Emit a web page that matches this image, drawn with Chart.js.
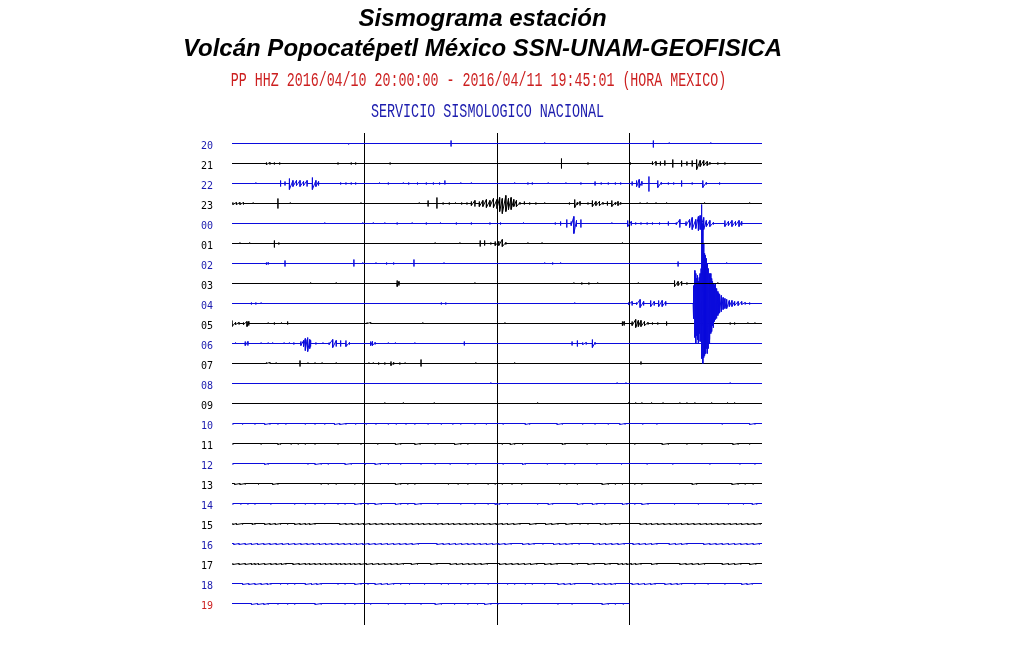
<!DOCTYPE html>
<html><head><meta charset="utf-8">
<script src="https://cdn.jsdelivr.net/npm/chart.js@4.4.1/dist/chart.umd.min.js"></script>
<style>html,body{margin:0;padding:0;background:#fff;overflow:hidden}</style>
</head><body>
<canvas id="c" width="1015" height="655"></canvas>
<script>
// ---------- texts ----------
const titleLines = ['Sismograma estación', 'Volcán Popocatépetl México SSN-UNAM-GEOFISICA'];
const headerLine = 'PP HHZ 2016/04/10 20:00:00 - 2016/04/11 19:45:01 (HORA MEXICO)';
const agencyLine = 'SERVICIO SISMOLOGICO NACIONAL';

// ---------- rows (hours) ----------
const hourLabels = ['20','21','22','23','00','01','02','03','04','05','06','07','08','09','10','11','12','13','14','15','16','17','18','19'];
const rowEndMinute = [60,60,60,60,60,60,60,60,60,60,60,60,60,60,60,60,60,60,60,60,60,60,60,45];
const minuteTicks = [0, 15, 30, 45, 60];
const rowSpacing = 20; // trace offset, in amplitude counts

// ---------- events: [minute, amplitude up, amplitude down] ----------
const row20 = [[13.2,0,1],[24.8,3,3],[35.4,1,0],[47.7,3,4],[49.5,1,0],[54.2,1,0]];
const row21 = [[3.9,1,1],[4.3,1,1],[4.8,1,1],[5.4,1,1],[12.0,1,1],[13.5,1,1],[14.0,1,1],[17.9,1,1],[37.3,5,5],[40.3,1,1],[45.1,1,1],[47.6,2,1],[48.0,2,2],[48.5,2,2],[49.0,3,2],[49.9,4,4],[50.9,3,3],[51.5,2,2],[52.1,3,3],[52.6,4,6],[53.0,3,3],[53.4,3,2],[53.8,2,2],[54.1,1,1],[55.0,1,1],[55.8,1,1]];
const row22 = [[2.7,1,0],[5.5,3,3],[6.0,2,2],[6.5,5,6],[6.9,3,3],[7.3,3,2],[7.7,3,3],[8.1,2,2],[8.5,3,3],[9.1,6,6],[9.5,3,3],[9.8,2,2],[12.3,1,1],[12.9,1,1],[13.5,1,1],[14.0,1,1],[16.7,1,0],[17.7,1,1],[19.4,1,0],[20.0,1,1],[21.0,1,1],[22.0,1,1],[22.8,1,1],[23.5,1,1],[24.1,3,1],[25.9,1,0],[27.1,1,0],[32.0,1,0],[33.5,1,1],[34.0,1,1],[35.8,1,0],[37.8,1,0],[39.5,1,1],[41.1,2,2],[41.8,1,1],[42.6,1,1],[43.4,1,1],[44.0,1,1],[45.3,2,2],[45.8,3,3],[46.1,4,4],[46.4,2,2],[47.2,7,8],[48.2,3,4],[48.6,1,1],[49.4,1,1],[50.0,1,1],[50.9,3,3],[52.1,1,1],[53.3,3,4],[53.7,1,1],[55.2,1,1]];
const row23 = [[0.1,1,1],[0.5,1,1],[0.9,1,1],[1.3,1,1],[2.4,1,0],[5.2,5,5],[6.6,1,0],[14.6,1,0],[21.2,1,0],[22.2,3,3],[23.2,6,5],[23.9,1,1],[24.6,1,1],[25.3,1,0],[26.0,1,1],[26.6,1,1],[27.1,2,2],[27.5,3,3],[28.0,2,3],[28.4,3,3],[28.8,4,4],[29.2,3,3],[29.6,5,4],[30.0,4,5],[30.3,6,8],[30.6,5,10],[31.0,8,8],[31.3,5,6],[31.6,6,6],[31.9,4,3],[32.2,3,3],[32.6,1,1],[33.1,2,1],[33.7,1,1],[34.4,1,1],[35.4,1,0],[38.2,1,1],[38.8,4,4],[39.1,1,1],[39.4,2,2],[40.3,1,1],[40.8,3,3],[41.2,2,2],[41.6,2,2],[42.0,1,1],[42.5,2,2],[43.0,3,3],[43.4,1,1],[43.7,2,2],[44.0,1,1],[46.2,1,0],[47.0,1,0],[48.0,1,0],[49.2,1,0],[53.5,1,0],[58.6,1,0]];
const row00 = [[10.5,1,0],[14.8,1,0],[16.0,1,0],[17.3,1,0],[18.7,1,1],[20.4,1,0],[22.0,1,1],[23.6,1,0],[25.4,1,1],[27.1,1,1],[29.2,1,1],[30.4,1,1],[33.0,1,0],[36.6,1,1],[37.2,2,2],[37.9,4,4],[38.4,2,2],[38.7,7,10],[39.0,3,3],[39.5,4,4],[43.0,1,0],[44.8,3,3],[45.2,2,2],[45.7,1,1],[46.3,1,1],[47.0,1,1],[47.6,1,1],[48.4,1,1],[49.4,2,2],[50.3,1,1],[50.7,4,4],[51.4,2,2],[51.8,4,4],[52.1,6,6],[52.5,4,5],[52.8,7,7],[53.0,8,6],[53.4,6,6],[53.7,3,3],[54.1,3,3],[54.5,1,1],[55.8,3,3],[56.2,2,2],[56.6,3,3],[57.0,2,2],[57.4,3,3],[57.7,2,2]];
const row01 = [[0.9,1,0],[2.0,1,0],[4.8,3,4],[5.3,1,1],[15.0,1,0],[23.0,1,0],[25.8,1,0],[28.1,3,3],[28.6,3,2],[29.3,1,1],[29.8,2,2],[30.2,2,2],[30.6,4,3],[31.0,1,1],[33.5,1,0],[35.1,1,0],[44.2,1,0]];
const row02 = [[3.9,1,1],[4.1,1,1],[6.0,3,3],[13.8,4,3],[14.8,1,0],[16.3,1,0],[17.5,1,1],[18.3,1,1],[20.6,4,3],[24.0,1,0],[35.4,1,0],[36.3,1,1],[37.2,1,0],[50.5,2,3],[56.0,1,0]];
const row03 = [[8.9,1,0],[11.8,1,0],[18.7,3,3],[18.9,2,2],[27.5,1,0],[38.7,1,0],[39.6,1,1],[40.4,1,1],[41.4,1,0],[46.0,1,0],[50.1,3,3],[50.5,2,2],[50.9,2,2],[51.5,1,1],[55.0,1,0]];
const row04 = [[2.2,1,1],[2.7,1,1],[3.3,1,0],[23.7,1,1],[24.2,1,1],[38.8,1,0],[44.9,1,1],[45.3,2,2],[45.8,1,1],[46.2,4,4],[46.6,2,2],[47.4,3,3],[47.8,2,2],[48.3,3,3],[48.7,3,3],[49.1,2,2],
  [52.2,10,8],[52.3,18,15],[52.4,33,34],[52.5,30,40],[52.6,25,32],[52.7,28,36],[52.8,22,40],[52.9,26,30],[53.0,30,38],[53.1,35,50],[53.2,99,55],[53.3,80,60],[53.4,60,54],[53.5,50,52],[53.6,48,50],[53.7,45,45],[53.8,40,50],[53.9,35,45],[54.0,30,40],[54.1,28,36],[54.2,30,30],[54.3,25,28],[54.4,22,22],[54.5,20,24],[54.6,18,18],[54.7,20,16],[54.8,15,15],[54.9,14,12],[55.0,12,12],[55.1,10,10],[55.2,9,9],[55.4,8,8],[55.6,6,6],[55.8,5,5],[56.0,4,5],[56.3,3,3],[56.6,3,3],[56.9,2,2],[57.3,2,2],[57.7,2,1],[58.1,1,1],[58.6,1,1]];
const row05 = [[0.0,3,3],[0.4,1,1],[0.8,1,1],[1.3,1,1],[1.7,2,3],[1.9,2,2],[4.1,1,0],[4.8,1,1],[5.6,1,0],[6.3,2,1],[15.3,1,0],[15.7,1,0],[21.6,1,0],[30.9,1,0],[44.2,2,2],[44.4,2,2],[45.3,2,2],[45.7,4,4],[46.0,3,3],[46.3,3,3],[46.7,2,2],[47.1,1,1],[47.6,1,1],[48.2,1,1],[49.2,2,2],[56.4,1,1],[56.9,1,1],[58.4,1,0],[59.2,1,0]];
const row06 = [[0.4,1,0],[1.5,2,2],[1.8,2,2],[3.3,1,0],[4.1,1,0],[4.6,1,0],[5.9,1,0],[6.5,1,0],[7.0,1,1],[7.8,2,2],[8.1,3,3],[8.3,5,7],[8.5,4,4],[8.6,6,8],[8.8,4,5],[8.9,3,3],[9.5,1,1],[10.3,1,0],[11.0,1,1],[11.4,4,4],[11.8,3,3],[12.3,3,3],[12.9,3,3],[13.3,1,1],[15.7,2,2],[15.9,2,2],[16.2,1,1],[17.7,1,0],[18.5,1,0],[20.7,1,0],[26.3,2,2],[38.5,2,2],[39.1,3,3],[39.7,1,1],[40.1,1,1],[40.8,4,4],[41.1,1,1]];
const row07 = [[3.9,1,0],[4.3,1,0],[5.0,1,0],[7.7,3,3],[8.6,1,0],[9.4,1,0],[10.2,1,0],[11.8,1,0],[15.5,1,0],[16.0,1,0],[16.6,1,1],[17.3,1,1],[18.0,2,2],[18.3,1,1],[19.0,1,1],[19.6,1,0],[21.4,4,3],[27.6,1,0],[32.0,1,0],[46.3,2,1]];
const row08 = [[29.3,1,0],[43.6,1,0],[44.6,1,0],[56.4,1,0]];
const row09 = [[17.3,1,0],[19.4,1,0],[22.9,1,0],[34.6,1,0],[44.9,1,0],[45.7,1,0],[46.4,1,0],[47.5,1,0],[48.8,1,0],[50.7,1,0],[51.5,1,0],[52.4,1,0],[54.3,1,0],[56.1,1,0],[56.9,1,0]];

// background noise ticks (minutes), small amplitude
const noise10 = [0.1,1.2,2.6,3.7,4.3,5.2,6.1,8.3,9.4,10.5,11.6,12.2,12.9,14.0,15.2,16.3,17.7,18.6,19.7,20.7,22.2,23.7,25.0,25.9,27.5,28.8,30.7,33.2,33.7,36.8,37.4,39.7,41.1,42.6,43.9,44.5,46.5,48.1,55.5,58.6,59.2];
const noise11 = [0.1,3.3,5.2,5.5,6.7,7.5,8.3,9.4,12.0,14.6,16.5,18.5,19.1,20.7,21.3,23.0,25.2,25.9,26.7,30.6,31.5,32.0,32.9,37.4,37.7,40.2,42.4,45.6,48.7,49.4,51.5,53.2,56.7,57.3,58.6];
const noise12 = [0.1,3.7,4.1,8.6,9.4,10.1,10.9,12.8,13.5,15.1,16.2,16.8,17.7,19.1,21.4,23.0,24.7,26.7,27.6,30.7,32.9,33.2,35.7,37.7,38.8,41.3,44.1,47.0,49.9,54.1,57.5,59.2];
const noise13 = [0.3,0.9,1.5,3.0,4.6,5.2,10.1,10.9,11.8,13.9,14.8,18.5,19.1,19.9,20.7,24.5,25.6,26.7,29.0,29.8,30.6,31.7,32.8,37.1,37.9,39.1,41.9,42.6,43.4,44.2,45.6,46.4,52.1,52.6,56.6,57.3,58.1,59.0];
const noise14 = [0.1,1.0,1.8,2.6,4.4,7.1,8.3,9.4,10.5,12.0,12.8,13.9,14.6,15.4,16.2,16.9,18.5,19.1,19.9,20.7,21.4,23.3,25.9,27.5,29.0,29.8,30.0,30.3,31.2,34.6,35.8,36.3,39.1,39.7,40.8,41.3,42.2,44.2,44.7,45.6,46.4,47.1,50.1,52.8,56.2,57.9,58.9,59.4];
const noise15 = [0.1,0.5,1.2,2.3,2.6,3.7,4.3,4.9,5.5,6.3,7.1,7.7,8.3,8.8,9.4,12.2,12.9,13.6,14.3,14.9,15.6,16.3,17.0,17.7,18.3,19.0,19.7,20.4,21.1,21.7,22.4,23.1,23.8,24.5,25.1,25.8,26.5,27.2,27.8,28.5,29.2,29.9,30.6,31.2,31.9,32.6,33.7,34.4,35.5,36.2,36.9,37.8,38.5,39.4,40.3,41.7,42.3,43.0,43.9,46.2,46.9,47.5,48.2,48.9,49.6,50.3,50.9,51.6,52.3,53.0,53.7,54.3,55.0,55.7,56.4,57.1,57.7,58.4,59.1,59.8];
const noise16 = [0.2,0.8,1.5,2.2,2.9,3.6,4.3,5.0,5.7,6.4,7.1,7.8,8.5,9.2,9.9,10.6,11.3,12.0,12.7,13.4,14.1,14.8,15.5,16.2,16.9,17.6,18.3,19.0,19.7,20.4,21.1,23.2,23.9,24.6,25.3,26.0,26.7,27.4,28.1,28.8,29.5,30.2,30.9,31.6,32.9,33.6,34.2,35.2,36.4,37.1,37.8,38.5,39.3,40.9,41.6,42.3,43.0,43.7,44.4,45.4,46.1,46.8,47.5,48.1,49.5,50.2,50.9,51.5,53.4,54.1,54.8,55.5,56.2,56.9,57.6,58.3,59.0,59.7];
const noise17 = [0.1,0.8,1.5,2.2,2.6,3.0,3.7,4.4,5.0,5.6,6.1,6.9,7.6,8.3,8.8,9.4,10.0,10.6,11.2,11.8,12.3,12.8,13.4,13.9,14.5,15.2,15.9,16.6,17.3,18.0,18.7,19.4,20.3,21.0,22.5,23.2,24.7,25.4,26.1,26.8,27.5,28.2,28.9,30.3,31.0,31.7,32.4,33.1,33.8,34.5,35.4,36.1,36.8,38.5,39.1,40.3,41.0,42.2,42.8,43.7,44.2,44.7,45.2,45.7,46.3,47.5,48.1,50.7,51.4,52.1,52.8,53.5,55.5,56.2,56.9,57.6,58.6,59.3];
const noise18 = [1.2,1.9,2.6,3.3,4.0,4.4,5.5,6.3,7.1,8.3,9.0,9.6,10.1,12.0,12.8,13.9,14.6,15.4,16.2,16.9,17.6,18.3,19.1,20.1,21.8,23.7,24.5,25.9,26.7,27.5,29.0,31.2,32.0,33.2,34.0,35.4,36.9,37.6,38.3,38.8,40.8,41.5,42.2,42.9,43.4,45.3,46.0,46.7,47.4,47.9,49.0,49.7,50.4,50.9,52.4,53.9,55.8,57.7,58.3,58.9];
const noise19 = [2.2,2.9,3.6,4.1,5.2,6.3,7.1,9.4,10.1,12.8,13.9,15.7,17.7,19.6,21.4,23.0,23.7,25.2,26.7,27.8,28.6,29.3,30.1,32.8,36.9,38.5,41.9,42.6,43.4,44.3];
const noiseUp = 0, noiseDown = 1;

const toTicks = list => list.map(m => [m, noiseUp, noiseDown]);
const rowEvents = [row20,row21,row22,row23,row00,row01,row02,row03,row04,row05,row06,row07,row08,row09,
  toTicks(noise10),toTicks(noise11),toTicks(noise12),toTicks(noise13),toTicks(noise14),
  toTicks(noise15),toTicks(noise16),toTicks(noise17),toTicks(noise18),toTicks(noise19)];

// ---------- styles ----------
const BLUE = '#0b0bdc', BLACK = '#000000', RED = '#cc1f1f';
const traceColors = hourLabels.map((h, i) => (i === hourLabels.length - 1 || i % 2 === 0) ? BLUE : BLACK);
const labelColors = hourLabels.map((h, i) => i === hourLabels.length - 1 ? RED : (i % 2 === 0 ? '#1a1aae' : BLACK));
// wiggles closer than this (minutes) are drawn as one continuous oscillation
const joinGapEvents = 0.45, joinGapNoise = 0.75, firstNoiseRow = 14;

function buildTrace(i) {
  const base = i * rowSpacing;
  const joinGap = i >= firstNoiseRow ? joinGapNoise : joinGapEvents;
  const pts = [{x: 0, y: base}];
  let prev = null;
  rowEvents[i].slice().sort((a, b) => a[0] - b[0]).forEach(([m, up, dn]) => {
    if (prev === null || m - prev > joinGap) {
      if (prev !== null) pts.push({x: prev, y: base});
      pts.push({x: m, y: base});
    }
    pts.push({x: m, y: base - up}, {x: m, y: base + dn});
    prev = m;
  });
  if (prev !== null) pts.push({x: prev, y: base});
  pts.push({x: rowEndMinute[i], y: base});
  return pts;
}

const datasets = hourLabels.map((h, i) => ({
  label: h,
  data: buildTrace(i),
  borderColor: traceColors[i],
  borderWidth: 1,
  pointRadius: 0,
  tension: 0,
  fill: false,
  yAxisID: 'y'
}));

function drawCondensed(ctx, text, cx, cy, sx, color) {
  ctx.save();
  ctx.translate(cx, cy);
  ctx.scale(sx, 1);
  ctx.fillStyle = color;
  ctx.fillText(text, 0, 0);
  ctx.restore();
}

const headerPlugin = {
  id: 'headerLines',
  afterDraw(chart) {
    const {ctx, chartArea} = chart;
    const mid = (chartArea.left + chartArea.right) / 2;
    ctx.save();
    ctx.textAlign = 'center';
    ctx.textBaseline = 'middle';
    ctx.font = '20px "Liberation Mono", monospace';
    drawCondensed(ctx, headerLine, mid - 18.5, chartArea.top - 52, 0.666, RED);
    drawCondensed(ctx, agencyLine, mid - 9.5, chartArea.top - 21, 0.67, '#1c1cae');
    ctx.restore();
  }
};

new Chart(document.getElementById('c'), {
  type: 'line',
  data: {datasets},
  plugins: [headerPlugin],
  options: {
    responsive: false,
    devicePixelRatio: 1,
    animation: false,
    events: [],
    layout: {padding: {left: 0, right: 50, top: 0, bottom: 30}},
    plugins: {
      legend: {display: false},
      tooltip: {enabled: false},
      title: {
        display: true,
        text: titleLines,
        color: '#000',
        font: {family: '"Liberation Sans", Arial, sans-serif', size: 24, weight: 'bold', style: 'italic', lineHeight: 1.25},
        padding: {top: 4, bottom: 69}
      }
    },
    scales: {
      x: {
        type: 'linear', min: 0, max: 60, position: 'bottom',
        ticks: {display: false, stepSize: 15},
        afterBuildTicks: s => { s.ticks = minuteTicks.map(v => ({value: v})); },
        grid: {
          drawTicks: false, lineWidth: 1,
          color: c => (c.tick && (c.tick.value === 0 || c.tick.value === 60)) ? 'rgba(0,0,0,0)' : '#000'
        },
        border: {display: false},
        afterFit: s => { s.height = 0; }
      },
      y: {
        type: 'linear', position: 'left', reverse: true,
        min: -10.5, max: (hourLabels.length - 1) * rowSpacing + 21.5,
        afterBuildTicks: s => { s.ticks = hourLabels.map((h, i) => ({value: i * rowSpacing})); },
        ticks: {
          autoSkip: false, padding: 19, labelOffset: 3,
          font: {family: '"DejaVu Sans Mono", monospace', size: 10},
          color: c => labelColors[c.index],
          callback: (v, i) => hourLabels[i]
        },
        grid: {display: false, drawTicks: false},
        border: {display: false},
        afterFit: s => { s.width = 232; }
      },
      yR: {
        type: 'linear', position: 'right', display: true,
        ticks: {display: false},
        grid: {display: false, drawTicks: false},
        border: {display: false},
        afterFit: s => { s.width = 203; }
      }
    }
  }
});
</script>
</body></html>
